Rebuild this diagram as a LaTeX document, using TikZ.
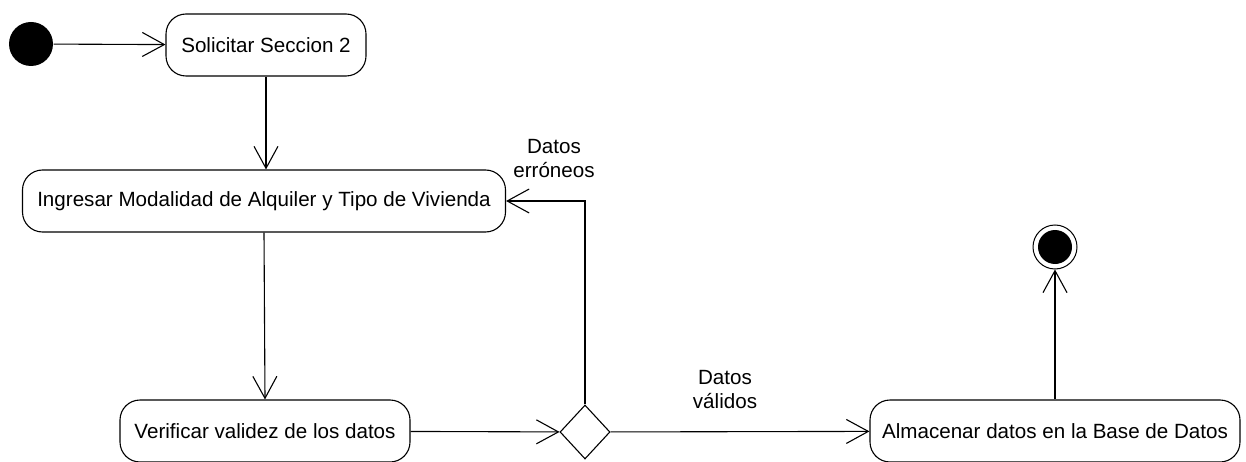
\documentclass[tikz,border=0pt]{standalone}
\usepackage{fontspec}
\setmainfont{Liberation Sans}
\usetikzlibrary{arrows.meta,shapes.geometric}

\begin{document}
\begin{tikzpicture}[x=1pt, y=-1pt, line width = 1.1pt,
		act/.style = {draw, rounded corners = 20pt, minimum height = 62pt, inner sep = 0pt},
		flow/.style = {-{Straight Barb[length = 22pt, width = 24pt, line width = 1.1pt]}},
		font = \fontsize{20.6}{24}\selectfont]
		\useasboundingbox (0,0) rectangle (1246,462);
		\node [circle, fill, inner sep = 0pt, minimum size = 44pt] (inicio) at (31,44) {};
		\node [act, minimum width = 200pt] (solicitar) at (266,45) {Solicitar Seccion 2};
		\node [act, minimum width = 483pt] (ingresar) at (264,201) {Ingresar Modalidad de Alquiler y Tipo de Vivienda};
		\node [act, minimum width = 290pt] (verificar) at (265,431) {Verificar validez de los datos};
		\node [draw, diamond, inner sep = 0pt, minimum width = 50pt, minimum height = 54pt] (decision) at (585,432) {};
		\node [act, minimum width = 370pt] (almacenar) at (1055,431) {Almacenar datos en la Base de Datos};
		\node [circle, draw, line width = 1pt, inner sep = 0pt, minimum size = 44pt] (fin) at (1055,247) {};
		\fill (fin) circle[radius = 17pt];
		\node [align = center] (erroneos) at (554,159) {Datos\\err\'oneos};
		\node [align = center] (validos) at (725,390) {Datos\\v\'alidos};
		\draw [flow] (inicio) -- (solicitar);
		\draw [flow] (solicitar.south) -- (ingresar.north -| solicitar.south);
		\draw [flow] (ingresar.south) -- (verificar.north);
		\draw [flow] (verificar) -- (decision);
		\draw [flow] (decision.north) |- (ingresar.east);
		\draw [flow] (decision) -- (almacenar);
		\draw [flow] (almacenar.north) -- (fin);
	\end{tikzpicture}
\end{document}
